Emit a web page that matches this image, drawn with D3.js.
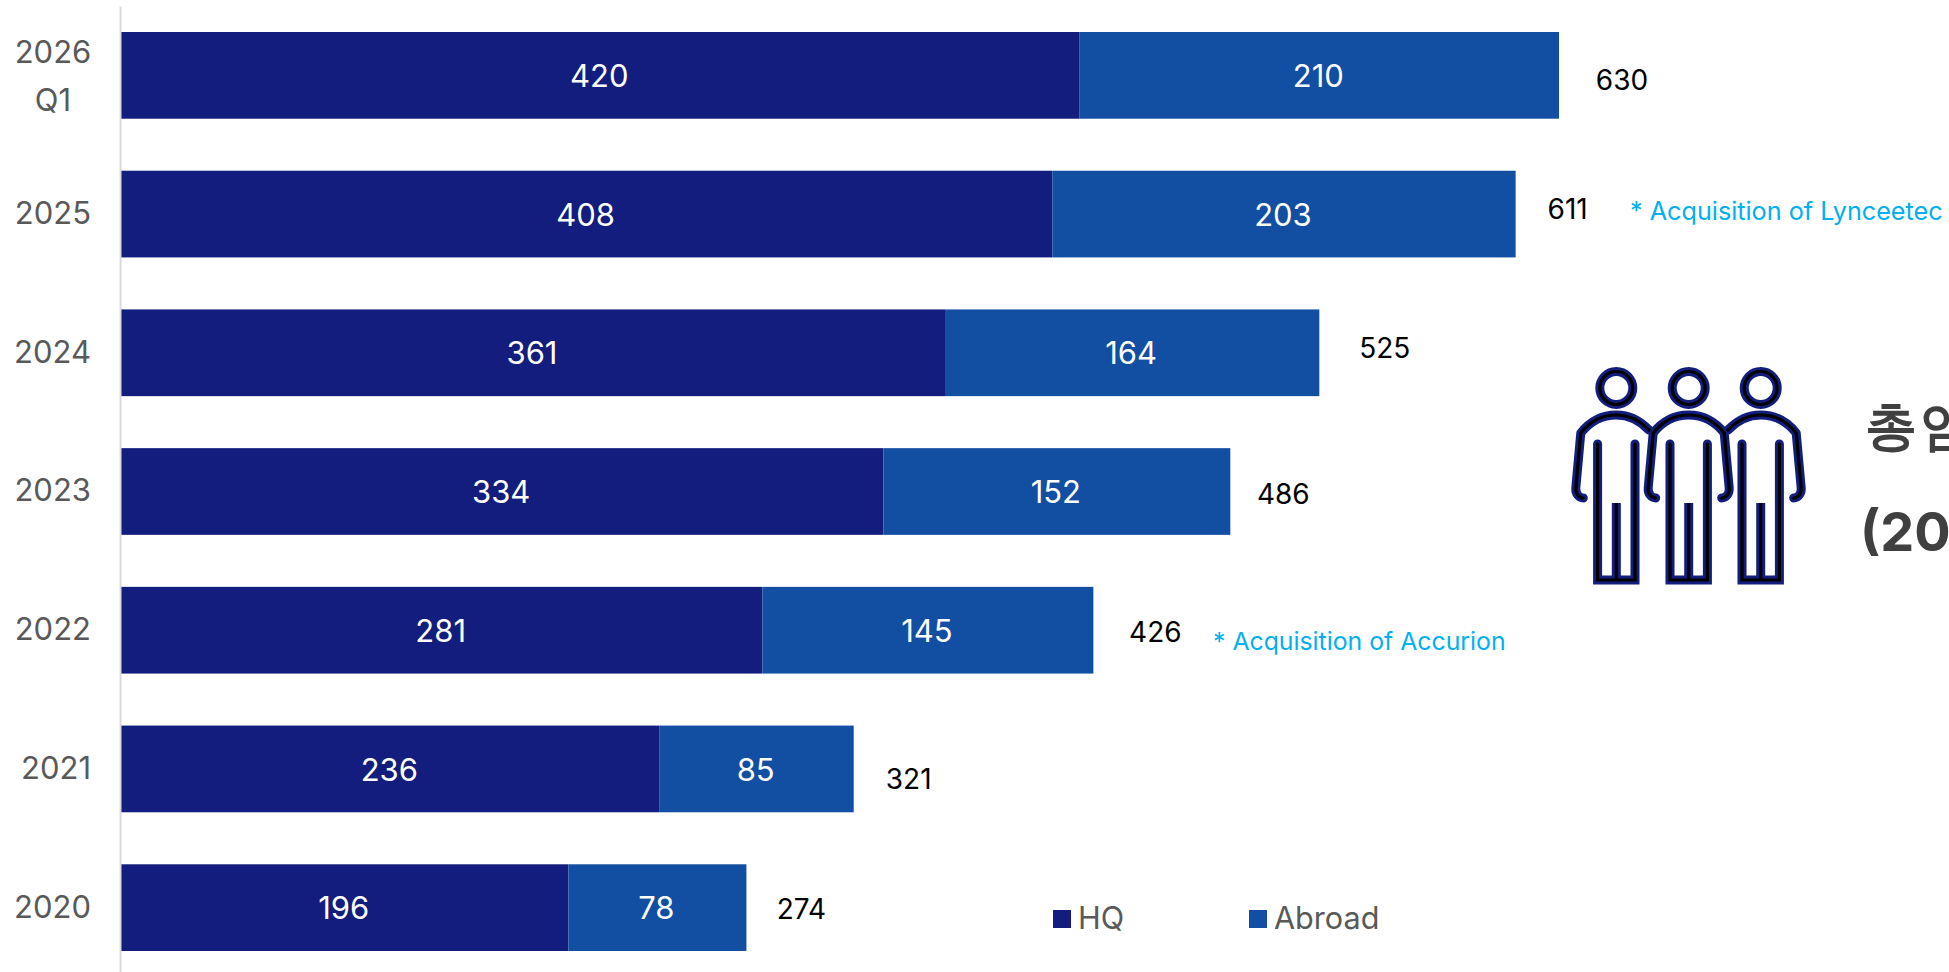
<!DOCTYPE html>
<html>
<head>
<meta charset="utf-8">
<script src="https://cdn.jsdelivr.net/npm/d3@7"></script>
<style>
html,body{margin:0;padding:0;background:#fff;overflow:hidden}
svg{display:block}
text{font-family:Inter,"Noto Sans",sans-serif}
</style>
</head>
<body>
<svg id="chart" width="1949" height="972"></svg>
<script>
const categories = ["2026 Q1","2025","2024","2023","2022","2021","2020"];
const hq = [420,408,361,334,281,236,196];
const abroad = [210,203,164,152,145,85,78];
const totals = [630,611,525,486,426,321,274];
const seriesNames = ["HQ","Abroad"];
const annotations = ["* Acquisition of Lynceetec","* Acquisition of Accurion"];
const sideTitle = ["총 임직원 수","(2026 Q1)"];

const colors = {hq:"#121d7d", abroad:"#124ea2", axis:"#d9d9d9", label:"#595959", note:"#00b0f0", title:"#404040"};
// hand-placed offsets of the total labels in the reference, relative to bar end / band centre
const totalDx = [63,52,65.5,53,62,55,55];
const totalDy = [5,-5,-5,2,2,10,1];

const svg = d3.select("#chart");
const x = d3.scaleLinear().domain([0,630]).range([121,1559]);
const y = d3.scaleBand().domain(categories).range([6,977]).paddingInner(0.375).paddingOuter(0.1875);

const rows = categories.map((c,i)=>({c,i,hq:hq[i],abroad:abroad[i],total:totals[i]}));
const stack = d3.stack().keys(["hq","abroad"])(rows);
const fills = [colors.hq, colors.abroad];

stack.forEach((s,si)=>{
  const g = svg.append("g");
  g.selectAll("rect").data(s).join("rect")
    .attr("x",d=>x(d[0])).attr("y",d=>y(d.data.c))
    .attr("width",d=>x(d[1])-x(d[0])).attr("height",y.bandwidth())
    .attr("fill",fills[si]);
  g.selectAll("text").data(s).join("text")
    .attr("x",d=>(x(d[0])+x(d[1]))/2-1).attr("y",d=>y(d.data.c)+y.bandwidth()/2+0.5)
    .attr("dy","0.36em").attr("text-anchor","middle")
    .attr("font-size",31).attr("fill","#fff")
    .text(d=>d[1]-d[0]);
});

// category axis
const axis = d3.axisLeft(y).tickSize(0).tickPadding(29);
const ax = svg.append("g").attr("transform","translate(120,0)").call(axis);
ax.select(".domain").attr("stroke",colors.axis).attr("stroke-width",2);
ax.selectAll("text").attr("font-size",31).attr("fill",colors.label).attr("font-family","Inter")
  .each(function(d){
    const t = d3.select(this);
    const parts = d.split(" ");
    if(parts.length>1){
      t.text(null).attr("text-anchor","middle").attr("dy",null);
      parts.forEach((p,k)=>t.append("tspan").attr("x",-67).attr("y",k===0?-24:24).attr("dy","0.36em").text(p));
    }
  });

// totals
svg.append("g").selectAll("text").data(rows).join("text")
  .attr("x",d=>x(d.total)+totalDx[d.i]).attr("y",d=>y(d.c)+y.bandwidth()/2+totalDy[d.i])
  .attr("dy","0.36em").attr("text-anchor","middle").attr("font-size",28).attr("fill","#000")
  .text(d=>d.total);

// annotations
svg.append("text").attr("x",1630).attr("y",211).attr("dy","0.36em").attr("font-size",25.2).attr("fill",colors.note).text(annotations[0]);
svg.append("text").attr("x",1213).attr("y",641).attr("dy","0.36em").attr("font-size",24.8).attr("fill",colors.note).text(annotations[1]);

// legend
const legendX = [1053,1249];
seriesNames.forEach((n,i)=>{
  svg.append("rect").attr("x",legendX[i]).attr("y",910).attr("width",18).attr("height",18).attr("fill",fills[i]);
  svg.append("text").attr("x",legendX[i]+25).attr("y",929).attr("font-size",30.6).attr("fill",colors.label).text(n);
});

// people icon
const heads = [1616.3,1688.7,1760.7];
const headY = 388;
function limbs(p,kind){
  if(kind==="right"){
    p.moveTo(-32.7,42);
    p.bezierCurveTo(-24,33,-13,27,0,27);
  } else {
    p.moveTo(-33,110); p.bezierCurveTo(-37,110,-41,106,-40.5,100); p.lineTo(-35.5,45);
    p.bezierCurveTo(-26,33,-13,27,0,27);
  }
  if(kind==="left"){
    p.bezierCurveTo(13,27,24,33,32.7,42);
  } else {
    p.bezierCurveTo(13,27,26,33,35.5,45); p.lineTo(40.5,100); p.bezierCurveTo(41,106,37,110,33,110);
  }
  return p;
}
function torso(p){
  p.moveTo(-18.7,56); p.lineTo(-18.7,192); p.lineTo(18.7,192); p.lineTo(18.7,56);
  return p;
}
function mid(p){ p.moveTo(0,115); p.lineTo(0,192); return p; }
const kinds = ["left","mid","right"];
[[colors.hq,9],["#000",3.2]].forEach(([col,w])=>{
  const g = svg.append("g").attr("fill","none").attr("stroke",col).attr("stroke-width",w);
  heads.forEach((hx,i)=>{
    const pg = g.append("g").attr("transform",`translate(${hx},${headY})`);
    pg.append("circle").attr("r",16.5);
    const limb = pg.append("path").attr("d",limbs(d3.path(),kinds[i]).toString()).attr("stroke-linejoin","round");
    limb.attr("stroke-linecap", "round");
    pg.append("path").attr("d",torso(d3.path()).toString()).attr("stroke-linecap","round").attr("stroke-linejoin","miter");
    pg.append("path").attr("d",mid(d3.path()).toString());
  });
});

// side title (runs off the right edge in the reference)
svg.append("text").attr("x",1865).attr("y",444).attr("font-family","'Noto Sans CJK KR'").attr("font-weight",700).attr("font-size",52).attr("word-spacing",-9).attr("fill",colors.title).text(sideTitle[0]);
svg.append("text").attr("x",1860).attr("y",551).attr("font-family","'Liberation Sans'").attr("font-weight",700).attr("font-size",54).attr("fill",colors.title).text(sideTitle[1]);
</script>
</body>
</html>
